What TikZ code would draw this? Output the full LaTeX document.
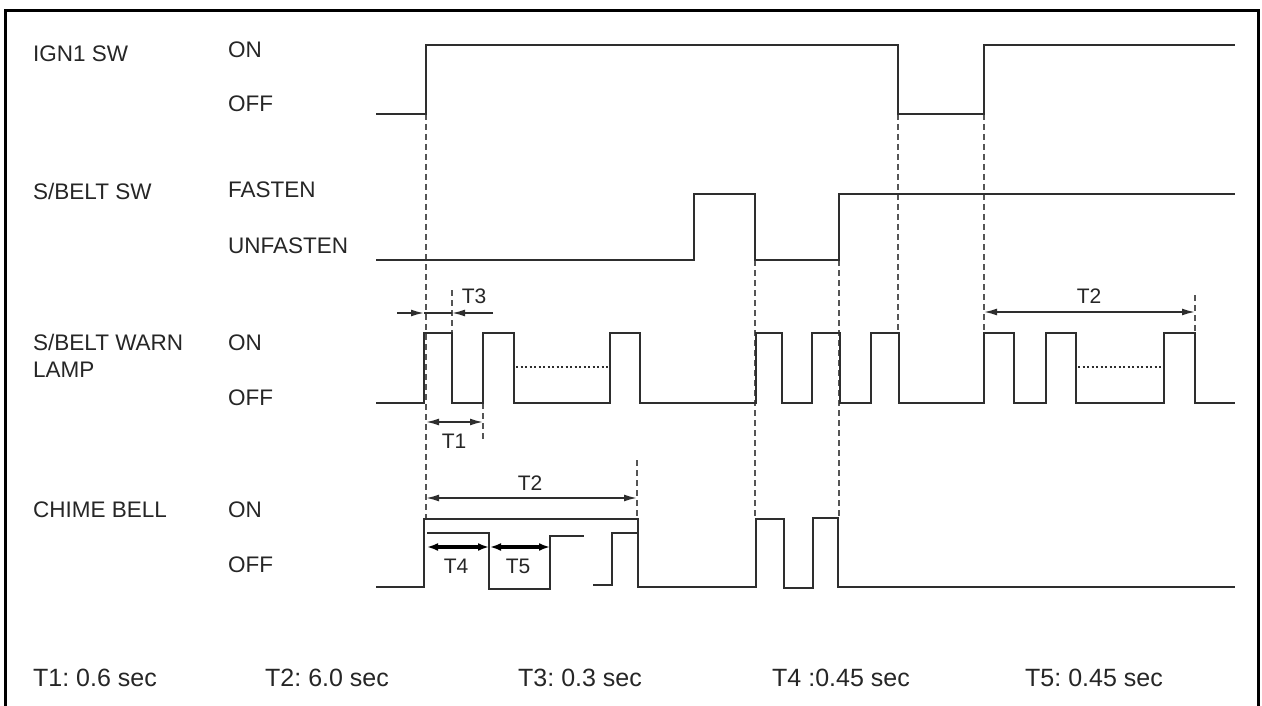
\documentclass[tikz,border=0pt]{standalone}
\usepackage{fontspec}
\setmainfont{Liberation Sans}
\usetikzlibrary{arrows.meta}
\definecolor{sig}{HTML}{2E2E2E}
\definecolor{dsh}{HTML}{555555}
\tikzset{
  sigline/.style={draw=sig, line width=2.6pt, line join=miter},
  dashv/.style={draw=dsh, line width=2.2pt, dash pattern=on 6pt off 4pt},
  dotline/.style={draw=sig, line width=2.4pt, dash pattern=on 2pt off 2.5pt},
  dimarrow/.style={draw=sig, line width=1.7pt, {Latex[length=13pt,width=7pt]}-{Latex[length=13pt,width=7pt]}},
  onearrow/.style={draw=sig, line width=1.7pt, -{Latex[length=13pt,width=7pt]}},
  thickarrow/.style={draw=black, line width=3.4pt, {Latex[length=11pt,width=8pt]}-{Latex[length=11pt,width=8pt]}},
  rowname/.style={anchor=base west, inner sep=0pt, text=black!85, font=\fontsize{22.5}{26}\selectfont},
  statelabel/.style={rowname},
  timelabel/.style={inner sep=0pt, text=black!85, font=\fontsize{21}{25}\selectfont},
  legend/.style={anchor=base west, inner sep=0pt, text=black!85, font=\fontsize{25}{29}\selectfont}
}
\begin{document}
\begin{tikzpicture}[x=1pt,y=-1pt]
\useasboundingbox (0,0) rectangle (1262,706);
\fill[white] (0,0) rectangle (1262,706);
\draw[line width=3pt, black] (5,720) -- (5,11) -- (1258,11) -- (1258,720);

% row names and state labels
\node[rowname] (ign) at (33,62) {IGN1 SW};
\node[statelabel] (ignon) at (228,58) {ON};
\node[statelabel] (ignoff) at (228,112) {OFF};
\node[rowname] (belt) at (33,200) {S/BELT SW};
\node[statelabel] (fasten) at (228,197) {FASTEN};
\node[statelabel] (unfasten) at (228,253) {UNFASTEN};
\node[rowname] (lamp1) at (33,350) {S/BELT WARN};
\node[rowname] (lamp2) at (33,377) {LAMP};
\node[statelabel] (lampon) at (228,350) {ON};
\node[statelabel] (lampoff) at (228,405) {OFF};
\node[rowname] (chime) at (33,517) {CHIME BELL};
\node[statelabel] (chimeon) at (228,517) {ON};
\node[statelabel] (chimeoff) at (228,572) {OFF};

% dashed guides
\draw[dashv] (426,114) -- (426,519);
\draw[dashv] (452,290) -- (452,333);
\draw[dashv] (483,403) -- (483,442);
\draw[dashv] (637,460) -- (637,519);
\draw[dashv] (755,260) -- (755,519);
\draw[dashv] (839,260) -- (839,519);
\draw[dashv] (898,114) -- (898,333);
\draw[dashv] (984,114) -- (984,333);
\draw[dashv] (1195,295) -- (1195,333);

% IGN1 SW
\draw[sigline] (376,114) -- (426,114) -- (426,45) -- (898,45) -- (898,114) -- (984,114) -- (984,45) -- (1235,45);
% S/BELT SW
\draw[sigline] (376,260) -- (694,260) -- (694,194) -- (755,194) -- (755,260) -- (839,260) -- (839,194) -- (1235,194);
% S/BELT WARN LAMP
\draw[sigline] (376,403) -- (424,403) -- (424,333) -- (452,333) -- (452,403) -- (483,403) -- (483,333) -- (514,333) -- (514,403)
  -- (610,403) -- (610,333) -- (640,333) -- (640,403) -- (756,403) -- (756,333) -- (782,333) -- (782,403) -- (812,403)
  -- (812,333) -- (840,333) -- (840,403) -- (871,403) -- (871,333) -- (899,333) -- (899,403) -- (984,403) -- (984,333)
  -- (1014,333) -- (1014,403) -- (1046,403) -- (1046,333) -- (1076,333) -- (1076,403) -- (1164,403) -- (1164,333)
  -- (1195,333) -- (1195,403) -- (1235,403);
\draw[dotline] (516,367) -- (608,367);
\draw[dotline] (1078,367) -- (1162,367);
% CHIME BELL
\draw[sigline] (376,587) -- (424,587) -- (424,519) -- (638,519) -- (638,587) -- (756,587) -- (756,519) -- (784,519) -- (784,588)
  -- (813,588) -- (813,518) -- (838,518) -- (838,587) -- (1235,587);
\draw[sigline] (427,533) -- (489,533) -- (489,589) -- (550,589) -- (550,536) -- (584,536);
\draw[sigline] (593,585) -- (612,585) -- (612,533) -- (638,533);

% dimension arrows
\coordinate (t3a) at (397,313);
\coordinate (t3b) at (424,313);
\coordinate (t3c) at (452,313);
\coordinate (t3d) at (493,313);
\draw[onearrow] (t3a) -- (t3b);
\draw[draw=sig, line width=1.7pt] (t3b) -- (t3c);
\draw[onearrow] (t3d) -- (t3c);
\node[timelabel] (t3) at (474,296) {T3};

\coordinate (t1a) at (426,422);
\coordinate (t1b) at (483,422);
\draw[dimarrow] (t1a) -- (t1b);
\node[timelabel] (t1) at (454,441) {T1};

\coordinate (t2a) at (984,312);
\coordinate (t2b) at (1195,312);
\draw[dimarrow] (t2a) -- (t2b);
\node[timelabel] (t2l) at (1089,296) {T2};

\coordinate (t2c) at (426,498);
\coordinate (t2d) at (637,498);
\draw[dimarrow] (t2c) -- (t2d);
\node[timelabel] (t2ch) at (530,483) {T2};

\coordinate (t4a) at (427,547);
\coordinate (t4b) at (489,547);
\coordinate (t5a) at (490,547);
\coordinate (t5b) at (550,547);
\draw[thickarrow] (t4a) -- (t4b);
\draw[thickarrow] (t5a) -- (t5b);
\node[timelabel] (t4) at (456,566) {T4};
\node[timelabel] (t5) at (518,566) {T5};

% legend
\node[legend] (l1) at (33,686) {T1:\ 0.6\ sec};
\node[legend] (l2) at (265,686) {T2:\ 6.0\ sec};
\node[legend] (l3) at (518,686) {T3:\ 0.3\ sec};
\node[legend] (l4) at (772,686) {T4\ :0.45\ sec};
\node[legend] (l5) at (1025,686) {T5:\ 0.45\ sec};
\end{tikzpicture}
\end{document}
